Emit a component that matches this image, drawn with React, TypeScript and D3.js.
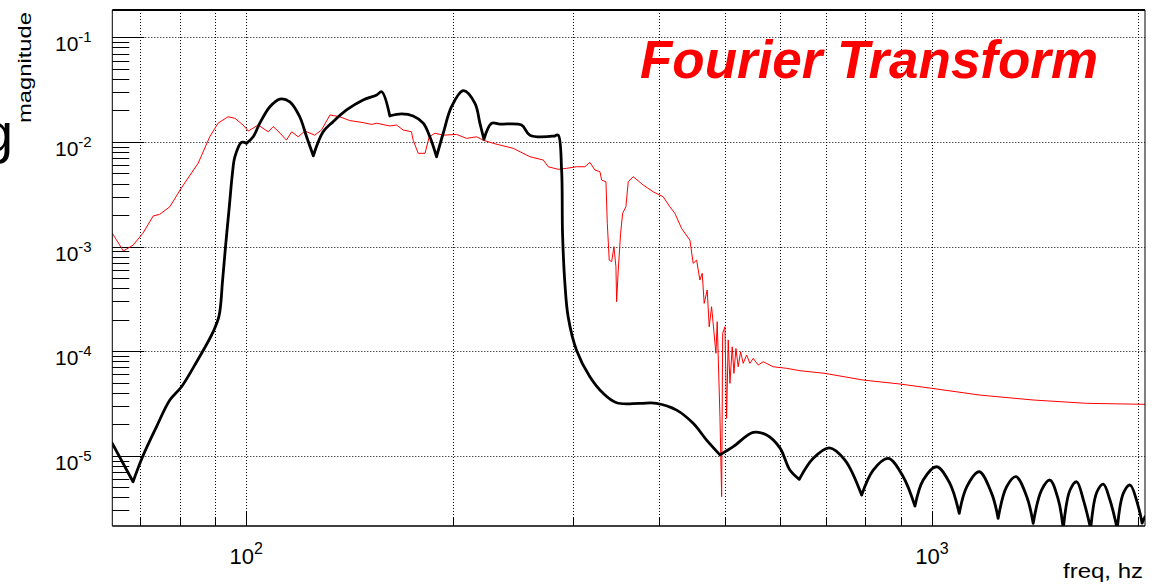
import React from "react";
import * as d3 from "d3";

// [frequency (Hz), magnitude]
const blackSpectrum: [number, number][] = [
  [63.8, 1.31e-5], [68.4, 5.64e-6], [70.7, 9.93e-6], [74.0, 1.89e-5], [77.4, 3.41e-5],
  [80.5, 4.57e-5], [84.7, 7.92e-5], [89.5, 1.53e-4], [91.3, 2.17e-4], [92.4, 4.78e-4],
  [93.4, 1.07e-3], [94.5, 2.4e-3], [95.5, 5.01e-3], [96.3, 7.22e-3], [98.5, 9.91e-3],
  [100.1, 9.7e-3], [102.4, 1.12e-2], [104.7, 1.51e-2], [108.3, 2.17e-2], [112.0, 2.57e-2],
  [115.8, 2.42e-2], [119.7, 1.74e-2], [122.5, 1.12e-2], [125.3, 7.38e-3], [129.5, 1.25e-2],
  [133.9, 1.56e-2], [140.1, 2.02e-2], [148.1, 2.52e-2], [155.0, 2.81e-2], [157.6, 3.02e-2],
  [162.0, 1.77e-2], [168.5, 1.85e-2], [175.2, 1.77e-2], [181.2, 1.51e-2], [185.3, 1.12e-2],
  [189.5, 7.22e-3], [193.8, 1.21e-2], [199.3, 2.17e-2], [207.3, 3.09e-2], [215.6, 2.34e-2],
  [219.2, 1.51e-2], [222.2, 1.06e-2], [228.0, 1.51e-2], [234.4, 1.48e-2], [252.1, 1.45e-2],
  [259.3, 1.16e-2], [281.9, 1.14e-2], [285.1, 1.16e-2], [288.4, 5.39e-3], [289.3, 1.34e-3],
  [291.6, 4.45e-4], [294.8, 2.13e-4], [303.2, 1.02e-4], [317.1, 5.69e-5], [331.6, 3.95e-5],
  [346.9, 3.21e-5], [375.2, 3.17e-5], [396.7, 3.17e-5], [424.4, 2.73e-5], [448.6, 2.04e-5],
  [469.3, 1.41e-5], [490.8, 1.02e-5], [513.1, 1.22e-5], [548.7, 1.67e-5], [574.0, 1.58e-5],
  [600.2, 1.19e-5], [620.7, 7.3e-6], [640.5, 5.95e-6], [671.3, 9.44e-6], [708.4, 1.19e-5],
  [746.7, 9.1e-6], [789.8, 4.21e-6], [821.1, 7.3e-6], [863.6, 9.44e-6], [908.0, 6.3e-6],
  [944.5, 3.3e-6], [971.2, 5.86e-6], [1016, 7.85e-6], [1062, 5.45e-6], [1096, 2.81e-6],
  [1124, 5.05e-6], [1172, 7.03e-6], [1222, 4.37e-6], [1249, 2.52e-6], [1285, 5.05e-6],
  [1326, 6.3e-6], [1375, 4.06e-6], [1405, 2.26e-6], [1445, 4.7e-6], [1486, 5.86e-6],
  [1529, 3.77e-6], [1554, 2.0e-6], [1590, 4.7e-6], [1626, 5.64e-6], [1663, 3.77e-6],
  [1704, 2.0e-6], [1740, 4.5e-6], [1778, 5.36e-6], [1818, 3.77e-6], [1863, 2.0e-6],
  [1902, 4.4e-6], [1945, 5.25e-6], [2000, 3.25e-6], [2025, 2.27e-6], [2045, 2.61e-6],
];

const redSpectrum: [number, number][] = [
  [63.8, 1.34e-3], [66.2, 9.06e-4], [68.4, 1.03e-3], [70.7, 1.34e-3], [73.2, 1.96e-3],
  [74.8, 2.03e-3], [77.4, 2.4e-3], [80.1, 3.47e-3], [81.9, 4.32e-3], [85.1, 6.24e-3],
  [88.5, 1.12e-2], [91.0, 1.51e-2], [94.1, 1.74e-2], [96.3, 1.68e-2], [99.0, 1.45e-2],
  [100.7, 1.27e-2], [104.1, 1.45e-2], [107.7, 1.25e-2], [109.5, 1.4e-2], [111.3, 1.27e-2],
  [114.5, 1.04e-2], [116.5, 1.25e-2], [119.1, 1.12e-2], [121.8, 1.27e-2], [125.9, 1.16e-2],
  [128.8, 1.3e-2], [132.5, 1.81e-2], [136.9, 1.74e-2], [141.6, 1.6e-2], [148.1, 1.53e-2],
  [152.4, 1.47e-2], [155.0, 1.51e-2], [162.0, 1.42e-2], [165.7, 1.45e-2], [169.4, 1.3e-2],
  [174.2, 1.25e-2], [175.2, 1.04e-2], [178.2, 7.78e-3], [182.3, 7.78e-3], [184.9, 1.12e-2],
  [188.5, 1.21e-2], [193.8, 1.16e-2], [202.7, 1.18e-2], [209.6, 1.08e-2], [216.8, 1.12e-2],
  [221.6, 1.04e-2], [229.2, 9.7e-3], [234.4, 9.34e-3], [245.1, 8.69e-3], [259.3, 7.22e-3],
  [271.2, 6.71e-3], [275.7, 5.79e-3], [285.1, 5.47e-3], [293.3, 5.59e-3], [303.2, 5.79e-3],
  [311.9, 5.79e-3], [317.1, 6.38e-3], [322.5, 5.39e-3], [328.0, 5.19e-3], [329.9, 4.32e-3],
  [334.7, 4.16e-3], [336.2, 1.67e-3], [338.4, 7.43e-4], [341.2, 7.16e-4], [343.8, 9.96e-4],
  [346.1, 6.41e-4], [346.9, 2.97e-4], [348.8, 5.96e-4], [351.6, 1.34e-3], [354.0, 2.08e-3],
  [357.9, 2.4e-3], [360.7, 4.16e-3], [366.8, 4.65e-3], [379.3, 3.87e-3], [392.2, 3.34e-3],
  [405.6, 2.99e-3], [414.8, 2.4e-3], [421.8, 2.08e-3], [431.5, 1.49e-3], [443.7, 1.15e-3],
  [448.6, 6.91e-4], [453.8, 7.43e-4], [458.8, 4.78e-4], [462.4, 5.54e-4], [465.5, 2.86e-4],
  [470.2, 3.84e-4], [473.4, 1.71e-4], [477.2, 2.66e-4], [484.2, 9.53e-5], [486.3, 1.91e-4],
  [490.8, 2.36e-5], [493.6, 4.06e-6], [495.3, 1.48e-4], [499.1, 1.71e-4], [501.9, 2.28e-5],
  [504.6, 1.28e-4], [507.5, 4.92e-5], [511.4, 1.1e-4], [514.4, 6.13e-5], [517.8, 1.06e-4],
  [521.8, 7.09e-5], [526.0, 9.87e-5], [530.6, 7.65e-5], [536.8, 9.18e-5], [542.7, 7.65e-5],
  [548.7, 8.53e-5], [558.0, 7.36e-5], [567.5, 7.92e-5], [586.9, 7.09e-5], [614.0, 6.85e-5],
  [642.0, 6.5e-5], [698.2, 6.13e-5], [793.9, 5.29e-5], [898.3, 4.85e-5], [999, 4.41e-5],
  [1175, 3.8e-5], [1405, 3.41e-5], [1681, 3.17e-5], [2045, 3.1e-5],
];

const xMajorTicks = [100, 1000];
const xMajorExponents = ["2", "3"];
const xMinorTicks = [70, 80, 90, 200, 300, 400, 500, 600, 700, 800, 900, 2000];
const yMajorTicks = [1e-1, 1e-2, 1e-3, 1e-4, 1e-5];
const yMajorExponents = ["-1", "-2", "-3", "-4", "-5"];
const xDomain = [63.8, 2045];
const yDomain = [2.13e-6, 0.1824];

const titleText = "Fourier Transform";
const xAxisTitle = "freq, hz";
const yAxisTitle = "magnitude";

const W = 1154;
const H = 584;
const L = 112.3;
const R = 1145;
const T = 10;
const B = 526;
const FONT = "'Liberation Sans', Arial, Helvetica, sans-serif";

export default function App() {
  const x = d3.scaleLog().domain(xDomain).range([L, R]);
  const y = d3.scaleLog().domain(yDomain).range([B, T]);

  const yMinor: number[] = [];
  for (let e = -6; e <= -1; e++) {
    for (let m = 2; m <= 9; m++) {
      const v = m * Math.pow(10, e);
      if (v > yDomain[0] && v < yDomain[1]) yMinor.push(v);
    }
  }

  // split black spectrum at local minima so the lobes keep sharp notches
  const segs: [number, number][][] = [];
  let cur: [number, number][] = [blackSpectrum[0]];
  for (let i = 1; i < blackSpectrum.length; i++) {
    const p = blackSpectrum[i];
    cur.push(p);
    if (
      i < blackSpectrum.length - 1 &&
      p[1] < blackSpectrum[i - 1][1] &&
      p[1] < blackSpectrum[i + 1][1]
    ) {
      segs.push(cur);
      cur = [p];
    }
  }
  segs.push(cur);

  const smooth = d3
    .line<[number, number]>()
    .x((d) => x(d[0]))
    .y((d) => y(d[1]))
    .curve(d3.curveCatmullRom.alpha(0.5));
  const blackPath = segs.map((s) => smooth(s) || "").join("");

  const linear = d3
    .line<[number, number]>()
    .x((d) => x(d[0]))
    .y((d) => y(d[1]));
  const redPath = linear(redSpectrum) || "";

  const allX = [...xMajorTicks, ...xMinorTicks];

  return (
    <svg
      width={W}
      height={H}
      style={{ position: "absolute", left: 0, top: 0, background: "#fff" }}
      fontFamily={FONT}
    >
      <defs>
        <clipPath id="plot">
          <rect x={L} y={T} width={R - L} height={B - T} />
        </clipPath>
      </defs>
      <rect x={0} y={0} width={W} height={H} fill="#fff" />

      {/* grid */}
      {allX.map((v, i) => (
        <line
          key={"gx" + i}
          x1={Math.round(x(v)) + 0.5}
          x2={Math.round(x(v)) + 0.5}
          y1={T}
          y2={B}
          stroke="#000"
          strokeWidth={1}
          strokeDasharray="1 2"
        />
      ))}
      {yMajorTicks.map((v, i) => (
        <line
          key={"gy" + i}
          x1={L}
          x2={R}
          y1={Math.round(y(v)) + 0.5}
          y2={Math.round(y(v)) + 0.5}
          stroke="#000"
          strokeWidth={1}
          strokeDasharray="1 2"
        />
      ))}

      {/* y ticks */}
      {yMajorTicks.map((v, i) => (
        <line key={"ytM" + i} x1={L} x2={L + 32} y1={Math.round(y(v)) + 0.5} y2={Math.round(y(v)) + 0.5} stroke="#000" strokeWidth={1} />
      ))}
      {yMinor.map((v, i) => (
        <line key={"ytm" + i} x1={L} x2={L + 17} y1={Math.round(y(v)) + 0.5} y2={Math.round(y(v)) + 0.5} stroke="#000" strokeWidth={1} />
      ))}
      {/* x ticks */}
      {xMajorTicks.map((v, i) => (
        <line key={"xtM" + i} x1={Math.round(x(v)) + 0.5} x2={Math.round(x(v)) + 0.5} y1={B} y2={B - 15} stroke="#000" strokeWidth={1} />
      ))}
      {xMinorTicks.map((v, i) => (
        <line key={"xtm" + i} x1={Math.round(x(v)) + 0.5} x2={Math.round(x(v)) + 0.5} y1={B} y2={B - 9} stroke="#000" strokeWidth={1} />
      ))}

      {/* curves */}
      <g clipPath="url(#plot)">
        <path d={redPath} fill="none" stroke="#ff0000" strokeWidth={1} strokeLinejoin="round" />
        <path d={blackPath} fill="none" stroke="#000" strokeWidth={2.8} strokeLinejoin="round" strokeLinecap="round" />
      </g>

      {/* frame */}
      <line x1={L} x2={R} y1={B} y2={B} stroke="#000" strokeWidth={1.5} />
      <line x1={L} x2={L} y1={T} y2={B} stroke="#000" strokeWidth={1} />
      <line x1={R} x2={R} y1={T} y2={B} stroke="#000" strokeWidth={1} />
      <line x1={L} x2={R} y1={T} y2={T} stroke="#000" strokeWidth={2} />

      {/* y tick labels */}
      {yMajorTicks.map((v, i) => (
        <text key={"yl" + i} x={55} y={y(v) + 14} fontSize={21} fill="#000">
          10
          <tspan fontSize={15} dy={-9}>
            {yMajorExponents[i]}
          </tspan>
        </text>
      ))}
      {/* x tick labels */}
      {xMajorTicks.map((v, i) => (
        <text key={"xl" + i} x={x(v)} y={564} fontSize={22} textAnchor="middle" fill="#000">
          10
          <tspan fontSize={16} dy={-10}>
            {xMajorExponents[i]}
          </tspan>
        </text>
      ))}

      {/* axis titles */}
      <text x={1143} y={578} fontSize={20} textAnchor="end" fill="#000" textLength={80} lengthAdjust="spacingAndGlyphs">
        {xAxisTitle}
      </text>
      <text
        transform="translate(31,123) rotate(-90)"
        fontSize={19}
        fill="#000"
        textLength={111}
        lengthAdjust="spacingAndGlyphs"
      >
        {yAxisTitle}
      </text>
      <text x={-17.5} y={151.5} fontSize={55} fill="#000">
        g
      </text>

      {/* title */}
      <text
        x={640}
        y={78}
        fontSize={53}
        fontWeight="bold"
        fontStyle="italic"
        fill="#ff0000"
        textLength={458}
        lengthAdjust="spacingAndGlyphs"
      >
        {titleText}
      </text>
    </svg>
  );
}
